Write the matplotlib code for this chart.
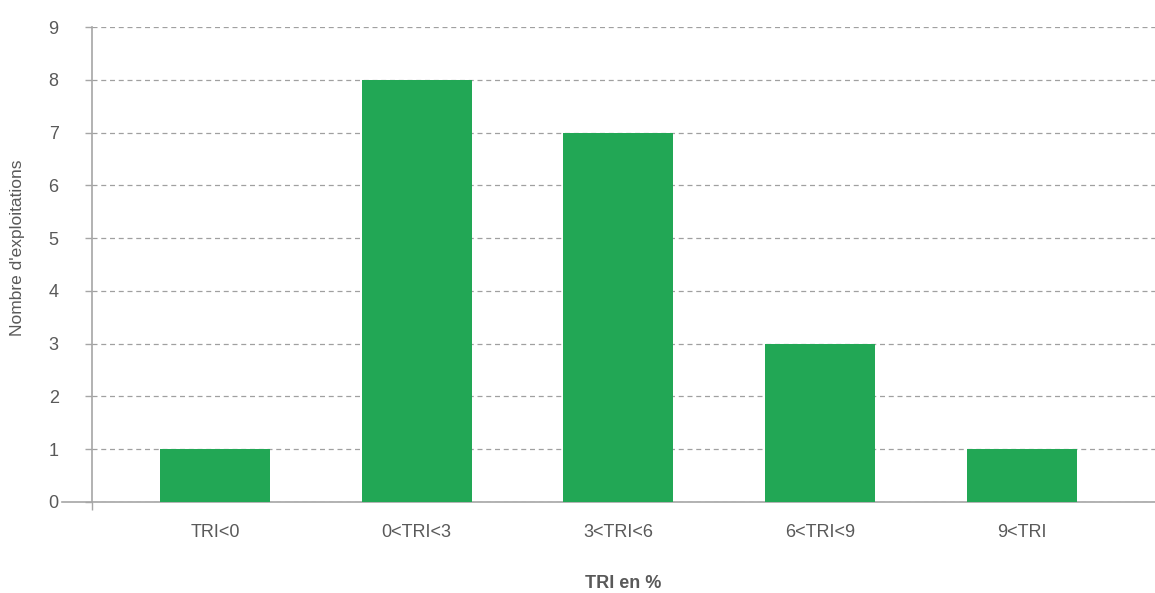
import matplotlib
matplotlib.use("Agg")
import matplotlib.pyplot as plt
import numpy as np

categories = ["TRI<0", "0<TRI<3", "3<TRI<6", "6<TRI<9", "9<TRI"]
values = [1, 8, 7, 3, 1]
yticks = list(range(0, 10))

plt.rcParams['font.family'] = ['Liberation Sans', 'DejaVu Sans']

W, H = 1155, 593
fig = plt.figure(figsize=(W/100, H/100), dpi=100)
ax = fig.add_axes([92/W, 1-502/H, (1155-92)/W, (502-27)/H])

green = "#22A755"
grey_text = "#595959"
spine_c = "#A6A6A6"

x = np.arange(len(categories))
ax.bar(x, values, width=0.545, color=green, zorder=3)

ax.set_xlim(-0.61, 4.66)
ax.set_ylim(0, 9)
ax.set_yticks(yticks)
ax.set_yticklabels([str(t) for t in yticks], fontsize=13, color=grey_text)
ax.set_xticks(x)
ax.set_xticklabels(categories, fontsize=13, color=grey_text)
ax.tick_params(axis='x', length=0, pad=16)
ax.tick_params(axis='y', length=5, color=spine_c, width=1, pad=19)
ax.set_xticks([-0.61], minor=True)
ax.tick_params(axis='x', which='minor', length=6, color=spine_c, width=1)

ax.yaxis.grid(True, linestyle=(0, (4, 3)), color="#A0A0A0", linewidth=0.9, zorder=0)
ax.set_axisbelow(True)

for s in ['top', 'right']:
    ax.spines[s].set_visible(False)
for s in ['left', 'bottom']:
    ax.spines[s].set_color(spine_c)
    ax.spines[s].set_linewidth(1.2)

# extended zero line to the left
ax.plot([-0.61 - 30/201.7, -0.61], [0, 0], color=spine_c, linewidth=1.2, clip_on=False, zorder=4)

ax.set_ylabel("Nombre d'exploitations", fontsize=12.5, color=grey_text, va='center')
ax.yaxis.set_label_coords(-(92-18)/(1155-92), (502-248)/(502-27))
ax.set_xlabel("TRI en %", fontsize=13, color=grey_text, fontweight='bold', va='center')
ax.xaxis.set_label_coords(0.5, -(584-502)/(502-27))

fig.savefig("out.png", dpi=100)
